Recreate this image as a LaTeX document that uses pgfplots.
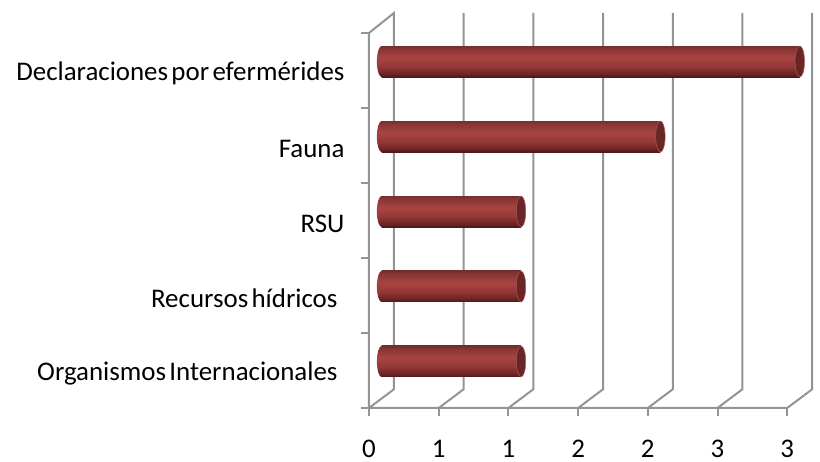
\documentclass[border=0pt]{standalone}
\usepackage{pgfplots}
\usepackage{pgfplotstable}
\usepackage{fontspec}
\pgfplotsset{compat=1.18}
\setmainfont[WordSpace=0.55]{Carlito}
\definecolor{gridc}{HTML}{949494}
\definecolor{capc}{HTML}{692625}
\definecolor{capedge}{HTML}{A85A58}
\definecolor{shA}{HTML}{4F1717}
\definecolor{shB}{HTML}{6B2423}
\definecolor{shC}{HTML}{943837}
\definecolor{shD}{HTML}{A84442}
\definecolor{shE}{HTML}{8A3635}
\definecolor{shF}{HTML}{752D2D}

\pgfdeclareverticalshading{barshade}{100bp}{
  color(0bp)=(shA);
  color(25bp)=(shA);
  color(30bp)=(shB);
  color(42bp)=(shC);
  color(56bp)=(shD);
  color(70bp)=(shE);
  color(75bp)=(shF);
  color(100bp)=(shF)}

\pgfdeclareplotmark{capleft}{\path[shade,shading=barshade,draw=none] (canvas cs:x=4pt,y=15.5pt) -- (canvas cs:x=0pt,y=15.5pt) arc [start angle=90,end angle=270,x radius=4.7pt,y radius=15.5pt] -- (canvas cs:x=4pt,y=-15.5pt) -- cycle;}
\pgfdeclareplotmark{capright}{\path[fill=capc,draw=capedge,line width=0.5pt] (canvas cs:x=0pt,y=0pt) ellipse [x radius=4.7pt,y radius=15.5pt];}

\pgfplotstableread{
pos value
0 1
1 1
2 1
3 2
4 3
}\bardata

\begin{document}
\begin{tikzpicture}[x=1pt,y=1pt]
\useasboundingbox (0,0) rectangle (820,462);

% walls and category labels
\begin{axis}[
    at={(369pt,54pt)}, anchor=south west,
    scale only axis, width=444pt, height=395pt,
    xmin=0, xmax=3.185, ymin=-0.5, ymax=4.7667,
    clip=false,
    axis line style={draw=none},
    xtick={0,0.5,1,1.5,2,2.5,3},
    xticklabels={0,1,1,2,2,3,3},
    ytick={-0.5,0.5,1.5,2.5,3.5,4.5},
    yticklabels={},
    extra y ticks={0,1,2,3,4},
    extra y tick labels={{Organismos Internacionales\rule{7pt}{0pt}},{Recursos hídricos\rule{7pt}{0pt}},RSU,Fauna,{Declaraciones por efermérides}},
    extra y tick style={major tick length=0pt,tick style={draw=none}},
    tick align=outside, xtick pos=bottom, ytick pos=left,
    major tick length=8pt,
    tick style={draw=gridc,line width=2pt},
    tick label style={font=\fontsize{26.9}{28}\selectfont,black},
    xticklabel style={yshift=-21pt},
    yticklabel style={xshift=-21pt,yshift=-3pt},
    unbounded coords=jump,
]
\addplot[gridc,line width=2pt] coordinates {
(0,-0.5)(0,4.5)(0.179,4.7667)(0.179,-0.25)(0,-0.5)(3,-0.5) (nan,nan)
(0.5,-0.5)(0.679,-0.25)(0.679,4.7667) (nan,nan)
(1,-0.5)(1.179,-0.25)(1.179,4.7667) (nan,nan)
(1.5,-0.5)(1.679,-0.25)(1.679,4.7667) (nan,nan)
(2,-0.5)(2.179,-0.25)(2.179,4.7667) (nan,nan)
(2.5,-0.5)(2.679,-0.25)(2.679,4.7667) (nan,nan)
(3,-0.5)(3.179,-0.25)(3.179,4.7667)
};
\end{axis}

% cylinders, set back into the depth of the chart
\begin{axis}[
    at={(369pt,54pt)}, anchor=south west,
    scale only axis, width=444pt, height=395pt,
    xmin=-0.0904, xmax=3.0946, ymin=-0.62, ymax=4.647,
    hide axis, clip=false,
]
\pgfplotsinvokeforeach{0,1,2,3,4}{
  \addplot[xbar,bar width=31pt,draw=none,shade,shading=barshade,restrict y to domain=#1:#1] table[x=value,y=pos] {\bardata};
}
\addplot[only marks,mark=capleft,mark options={draw=none}] table[x expr=0,y=pos] {\bardata};
\addplot[only marks,mark=capright] table[x=value,y=pos] {\bardata};
\end{axis}
\end{tikzpicture}
\end{document}
